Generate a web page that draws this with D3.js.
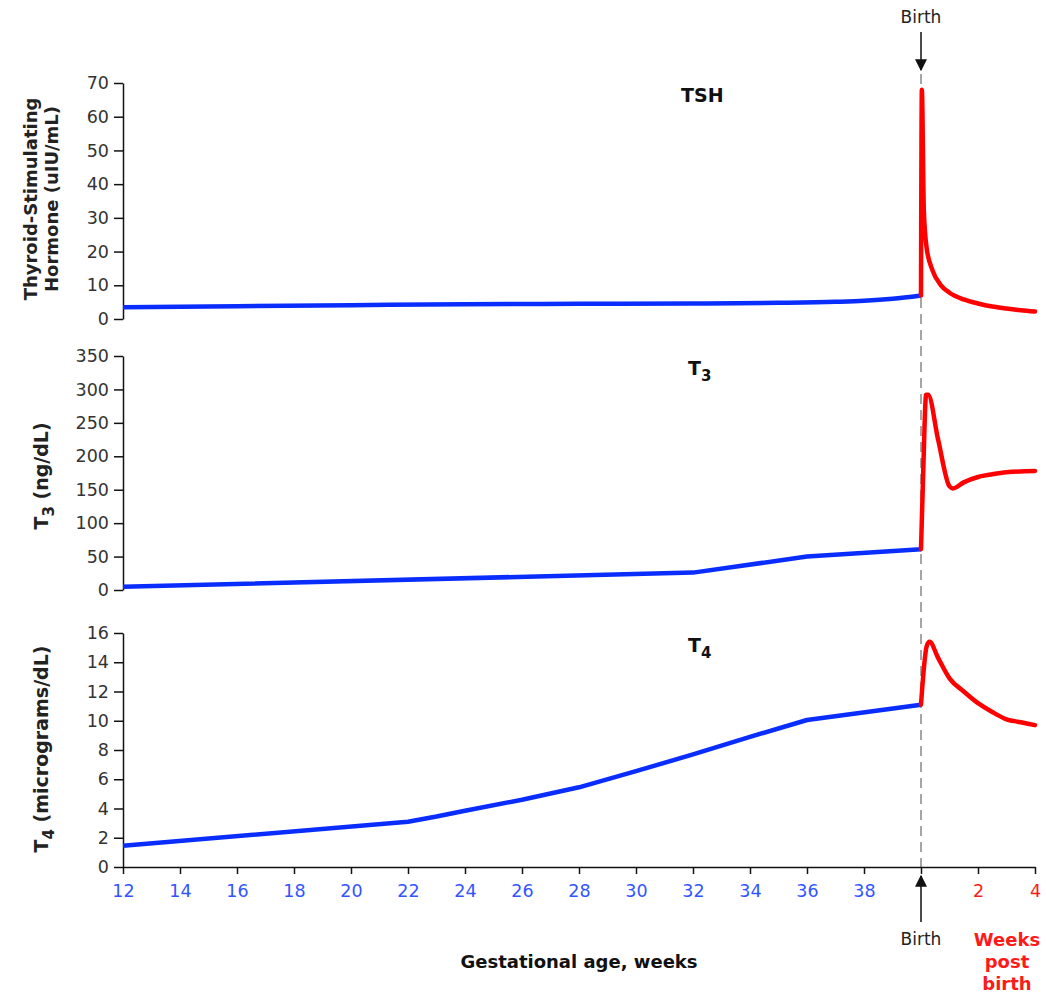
<!DOCTYPE html>
<html>
<head>
<meta charset="utf-8">
<script src="https://cdn.jsdelivr.net/npm/d3@7"></script>
<style>
  body { margin: 0; background: #fff; }
  text { font-family: "DejaVu Sans", Verdana, sans-serif; }
</style>
</head>
<body>
<script>
// data: [week, value]; weeks past 40 are weeks after birth (42 = 2, 44 = 4)
var tshFetal = [[12,3.5],[16,3.8],[20,4.1],[24,4.4],[28,4.5],[32,4.6],[35,4.8],[37,5.1],[38,5.4],[39,6],[40,7]];
var tshNewborn = [[40,7],[40.03,68],[40.1,32],[40.2,21],[40.4,14.5],[40.7,10],[41,7.8],[41.5,5.8],[42,4.6],[42.5,3.7],[43,3.1],[43.5,2.6],[44,2.2]];

var t3Fetal = [[12,5],[32,26],[36,50],[40,61]];
var t3Newborn = [[40,61],[40.08,180],[40.18,292],[40.25,292],[40.6,225],[41,155],[41.12,152],[41.5,161],[42,169],[42.5,173],[43,176],[44,178]];

var t4Fetal = [[12,1.45],[22,3.1],[23,3.45],[24,3.85],[26,4.6],[28,5.45],[30,6.55],[32,7.7],[34,8.9],[36,10.05],[40,11.1]];
var t4Newborn = [[40,11.1],[40.2,15.1],[40.3,15.4],[40.6,14.3],[41,12.9],[41.5,12],[42,11.2],[42.5,10.6],[43,10.1],[43.5,9.9],[44,9.7]];

var gestTicks = [12,14,16,18,20,22,24,26,28,30,32,34,36,38];
var postTicks = [42,44];
var panels = [
  {name: "TSH", sub: "", max: 70, step: 10, fetal: tshFetal, newborn: tshNewborn, top: 83, bottom: 319, curve: d3.curveMonotoneX},
  {name: "T", sub: "3", max: 350, step: 50, fetal: t3Fetal, newborn: t3Newborn, top: 356, bottom: 590, curve: d3.curveLinear},
  {name: "T", sub: "4", max: 16, step: 2, fetal: t4Fetal, newborn: t4Newborn, top: 633, bottom: 867, curve: d3.curveLinear}
];

var width = 1046, height = 995;
var svg = d3.select('body').append('svg').attr('width', width).attr('height', height);

var x = d3.scaleLinear().domain([12, 44]).range([123, 1035]);
var birthX = x(40);

// dashed birth line
svg.append('line')
  .attr('x1', birthX).attr('x2', birthX).attr('y1', 74).attr('y2', 867)
  .attr('stroke', '#777').attr('stroke-width', 1.3).attr('stroke-dasharray', '10,6');

panels.forEach(function(p) {
  var y = d3.scaleLinear().domain([0, p.max]).range([p.bottom, p.top]);
  var ax = svg.append('g').attr('transform', 'translate(123,0)')
    .call(d3.axisLeft(y).tickValues(d3.range(0, p.max + 1, p.step)).tickSize(9).tickSizeOuter(0));
  ax.select('.domain').attr('stroke', '#111').attr('stroke-width', 1.5);
  ax.selectAll('.tick line').attr('stroke', '#111').attr('stroke-width', 1.5);
  ax.selectAll('.tick text').attr('fill', '#333').style('font-size', '17.5px').attr('x', -14);

  var fetalLine = d3.line().x(function(d){ return x(d[0]); }).y(function(d){ return y(d[1]); })
    .curve(p.curve);
  var line = d3.line().x(function(d){ return x(d[0]); }).y(function(d){ return y(d[1]); })
    .curve(d3.curveMonotoneX);
  svg.append('path').datum(p.fetal).attr('d', fetalLine)
    .attr('fill', 'none').attr('stroke', '#0a2dff').attr('stroke-width', 4.5).attr('stroke-linejoin', 'round');
  svg.append('path').datum(p.newborn).attr('d', line)
    .attr('fill', 'none').attr('stroke', '#ff0000').attr('stroke-width', 4.5)
    .attr('stroke-linejoin', 'round').attr('stroke-linecap', 'round');

  var t = svg.append('text').attr('x', 681).attr('y', p.top + 19)
    .attr('font-weight', 'bold').style('font-size', '19px').attr('fill', '#111').text(p.name);
  if (p.sub) {
    t.attr('x', 688);
    t.append('tspan').attr('dy', 6).style('font-size', '15px').text(p.sub);
  }
});

// y axis titles
var tshTitle = svg.append('text').attr('transform', 'translate(37,199) rotate(-90)')
  .attr('text-anchor', 'middle').attr('font-weight', 'bold').style('font-size', '18px').attr('fill', '#222');
tshTitle.append('tspan').attr('x', 0).attr('dy', 0).text('Thyroid-Stimulating');
tshTitle.append('tspan').attr('x', 0).attr('dy', 21).text('Hormone (uIU/mL)');

var t3Title = svg.append('text').attr('transform', 'translate(48,476) rotate(-90)')
  .attr('text-anchor', 'middle').attr('font-weight', 'bold').style('font-size', '19px').attr('fill', '#222');
t3Title.append('tspan').text('T');
t3Title.append('tspan').attr('dy', 6).style('font-size', '15px').text('3');
t3Title.append('tspan').attr('dy', -6).text(' (ng/dL)');

var t4Title = svg.append('text').attr('transform', 'translate(48,749) rotate(-90)')
  .attr('text-anchor', 'middle').attr('font-weight', 'bold').style('font-size', '19px').attr('fill', '#222');
t4Title.append('tspan').text('T');
t4Title.append('tspan').attr('dy', 6).style('font-size', '15px').text('4');
t4Title.append('tspan').attr('dy', -6).text(' (micrograms/dL)');

// x axis
var xa = svg.append('g').attr('transform', 'translate(0,867)')
  .call(d3.axisBottom(x).tickValues(gestTicks.concat([40], postTicks)).tickSize(7).tickSizeOuter(0)
    .tickFormat(function(d){ return d > 40 ? d - 40 : (d == 40 ? '' : d); }));
xa.select('.domain').attr('stroke', '#111').attr('stroke-width', 1.5);
xa.selectAll('.tick line').attr('stroke', '#111').attr('stroke-width', 1.5);
xa.selectAll('.tick text').style('font-size', '17.5px').attr('y', 18)
  .attr('fill', function(d){ return d > 40 ? '#ff1a1a' : '#3355ff'; });

// arrow marker
svg.append('defs').append('marker').attr('id', 'arr').attr('viewBox', '0 0 10 10')
  .attr('refX', 9).attr('refY', 5).attr('markerWidth', 12).attr('markerHeight', 12)
  .attr('markerUnits', 'userSpaceOnUse').attr('orient', 'auto')
  .append('path').attr('d', 'M0,0 L10,5 L0,10 z').attr('fill', '#111');

svg.append('line').attr('x1', birthX).attr('x2', birthX).attr('y1', 32).attr('y2', 70)
  .attr('stroke', '#111').attr('stroke-width', 1.5).attr('marker-end', 'url(#arr)');
svg.append('text').attr('x', birthX).attr('y', 23).attr('text-anchor', 'middle')
  .style('font-size', '17px').attr('fill', '#222').text('Birth');

svg.append('line').attr('x1', birthX).attr('x2', birthX).attr('y1', 922).attr('y2', 876)
  .attr('stroke', '#111').attr('stroke-width', 1.5).attr('marker-end', 'url(#arr)');
svg.append('text').attr('x', birthX).attr('y', 945).attr('text-anchor', 'middle')
  .style('font-size', '17px').attr('fill', '#222').text('Birth');

var wk = svg.append('text').attr('text-anchor', 'middle').attr('font-weight', 'bold')
  .style('font-size', '18px').attr('fill', '#ff1a1a');
['Weeks', 'post', 'birth'].forEach(function(s, i) {
  wk.append('tspan').attr('x', 1007).attr('y', 946 + i * 22).text(s);
});

svg.append('text').attr('x', 579).attr('y', 968).attr('text-anchor', 'middle')
  .attr('font-weight', 'bold').style('font-size', '18px').attr('fill', '#111')
  .text('Gestational age, weeks');
</script>
</body>
</html>
